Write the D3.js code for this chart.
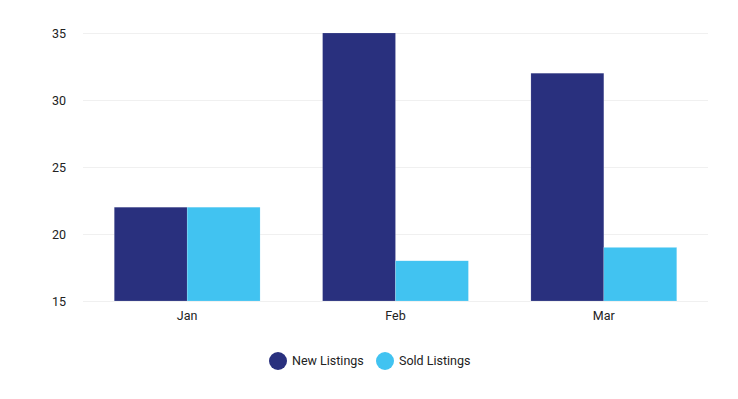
<!DOCTYPE html>
<html>
<head>
<meta charset="utf-8">
<script src="https://cdn.jsdelivr.net/npm/d3@7"></script>
<style>
  body { margin: 0; background: #fff; font-family: Roboto, "Noto Sans", sans-serif; }
  .tick text { font-size: 12.5px; fill: #222; font-family: Roboto, sans-serif; }
  .legend-label { font-size: 12.5px; fill: #222; }
</style>
</head>
<body>
<div id="wrapper"></div>
<script>
// data
const months = ["Jan", "Feb", "Mar"]
const seriesNames = ["New Listings", "Sold Listings"]
const newListings = [22, 35, 32]
const soldListings = [22, 18, 19]
const yTicks = [15, 20, 25, 30, 35]
const colors = ["#29307e", "#41c3f1"]

function drawBars() {
  const dimensions = {
    width: 738,
    height: 399,
    margin: { top: 33, right: 30, bottom: 98, left: 83 },
  }
  dimensions.boundedWidth = dimensions.width - dimensions.margin.left - dimensions.margin.right
  dimensions.boundedHeight = dimensions.height - dimensions.margin.top - dimensions.margin.bottom

  const data = months.map((m, i) => ({
    month: m,
    values: [
      { key: seriesNames[0], value: newListings[i] },
      { key: seriesNames[1], value: soldListings[i] },
    ],
  }))

  const wrapper = d3.select("#wrapper")
    .append("svg")
      .attr("width", dimensions.width)
      .attr("height", dimensions.height)

  const bounds = wrapper.append("g")
    .attr("transform", `translate(${dimensions.margin.left},${dimensions.margin.top})`)

  // scales
  const xScale = d3.scaleBand()
    .domain(months)
    .range([0, dimensions.boundedWidth])
    .paddingInner(0.3)
    .paddingOuter(0.15)

  const xSub = d3.scaleBand()
    .domain(seriesNames)
    .range([0, xScale.bandwidth()])

  const yScale = d3.scaleLinear()
    .domain([15, 35])
    .range([dimensions.boundedHeight, 0])

  const colorScale = d3.scaleOrdinal().domain(seriesNames).range(colors)

  // gridlines
  bounds.append("g")
    .selectAll("line")
    .data(yTicks)
    .join("line")
      .attr("x1", 0)
      .attr("x2", dimensions.boundedWidth)
      .attr("y1", d => yScale(d) + 0.5)
      .attr("y2", d => yScale(d) + 0.5)
      .attr("stroke", "#f0f0f0")

  // bars
  const groups = bounds.append("g")
    .selectAll("g")
    .data(data)
    .join("g")
      .attr("transform", d => `translate(${xScale(d.month)},0)`)

  groups.selectAll("rect")
    .data(d => d.values)
    .join("rect")
      .attr("x", d => xSub(d.key))
      .attr("y", d => yScale(d.value))
      .attr("width", xSub.bandwidth())
      .attr("height", d => yScale(15) - yScale(d.value))
      .attr("fill", d => colorScale(d.key))
      .attr("stroke", "#fff")
      .attr("stroke-opacity", 0.3)
      .attr("stroke-width", 0.5)

  // axes
  const yAxis = bounds.append("g")
    .call(d3.axisLeft(yScale).tickValues(yTicks).tickSize(0).tickPadding(17))
  yAxis.select(".domain").remove()

  const xAxis = bounds.append("g")
    .attr("transform", `translate(0,${dimensions.boundedHeight})`)
    .call(d3.axisBottom(xScale).tickSize(0).tickPadding(10))
  xAxis.select(".domain").remove()

  // legend
  const legendItems = [
    { name: seriesNames[0], x: 278 },
    { name: seriesNames[1], x: 385 },
  ]
  const legend = wrapper.append("g")
    .attr("transform", "translate(0,361)")

  const item = legend.selectAll("g")
    .data(legendItems)
    .join("g")
      .attr("transform", d => `translate(${d.x},0)`)

  item.append("circle")
    .attr("r", 9)
    .attr("fill", d => colorScale(d.name))

  item.append("text")
    .attr("class", "legend-label")
    .attr("x", 14)
    .attr("dy", "0.35em")
    .text(d => d.name)
}

drawBars()
</script>
</body>
</html>
